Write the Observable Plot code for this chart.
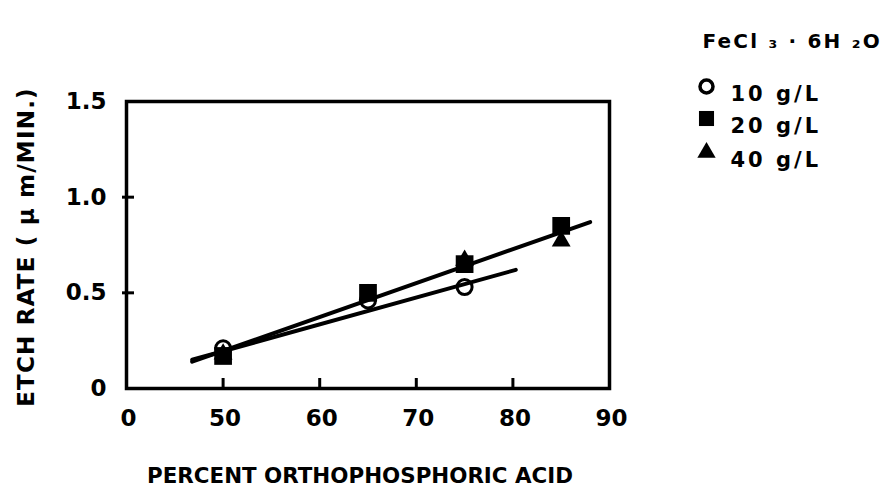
<!DOCTYPE html>
<html>
<head>
<meta charset="utf-8">
<script src="https://cdn.jsdelivr.net/npm/d3@7"></script>
<script src="https://cdn.jsdelivr.net/npm/@observablehq/plot@0.6"></script>
<style>
  html, body { margin: 0; padding: 0; background: #fff; }
  #chart svg { display: block; font-family: "DejaVu Sans", sans-serif; font-weight: bold; }
</style>
</head>
<body>
<div id="chart"></div>
<script>
// ---- data ----
const acidPct = [50, 65, 75, 85];                 // % orthophosphoric acid
const rate10 = [0.21, 0.46, 0.53, null];          // FeCl3·6H2O 10 g/L (circles)
const rate20 = [0.17, 0.50, 0.65, 0.85];          // 20 g/L (squares)
const rate40 = [0.18, 0.49, 0.67, 0.77];          // 40 g/L (triangles)
const fitUpperX = [46.8, 88.0];                   // fitted line through 20/40 g/L
const fitUpperY = [0.14, 0.87];
const fitLowerX = [46.8, 80.3];                   // fitted line through 10 g/L
const fitLowerY = [0.15, 0.62];
const xTicks = [40, 50, 60, 70, 80, 90];
const xTickLabels = ["0", "50", "60", "70", "80", "90"];
const xInnerTicks = [50, 60, 70, 80];
const yTicks = [0, 0.5, 1.0, 1.5];
const yTickLabels = ["0", "0.5", "1.0", "1.5"];
const yInnerTicks = [0.5, 1.0];
const legendTitle = "FeCl \u2083 \u00B7 6H \u2082O";
const legendLabels = ["10 g/L", "20 g/L", "40 g/L"];
const xTitle = "PERCENT ORTHOPHOSPHORIC ACID";
const yTitle = "ETCH RATE ( \u03BC m/MIN.)";

const pts = (ys) => acidPct.map((x, i) => ({x, y: ys[i]})).filter(d => d.y != null);
const seg = (xs, ys) => xs.map((x, i) => ({x, y: ys[i]}));

const FS = 23;
const legendRowDy = [-15, 17, 51];
const legendSymbols = ["circle", "square", "triangle"];
const legendStyle = [
  {r: 6.5, fill: "white", stroke: "black", strokeWidth: 3.5},
  {r: 8.5, fill: "black"},
  {r: 6.8, fill: "black"}
];

const chart = Plot.plot({
  width: 884,
  height: 491,
  marginLeft: 126,
  marginRight: 275,
  marginTop: 101,
  marginBottom: 103,
  x: {domain: [40, 90]},
  y: {domain: [0, 1.5]},
  marks: [
    // tick labels
    Plot.axisX({ticks: xTicks, tickSize: 0, tickPadding: 21, fontSize: FS, fontWeight: "bold",
      tickFormat: d => xTickLabels[xTicks.indexOf(d)], label: null, dx: 2}),
    Plot.axisY({ticks: yTicks, tickSize: 0, tickPadding: 20, fontSize: FS, fontWeight: "bold",
      tickFormat: d => yTickLabels[yTicks.indexOf(d)], label: null}),
    // inward tick marks
    Plot.axisX({ticks: xInnerTicks, tickSize: -10, strokeWidth: 3, tickFormat: () => "", label: null}),
    Plot.axisY({ticks: yInnerTicks, tickSize: -8, strokeWidth: 3, tickFormat: () => "", label: null}),
    Plot.axisY({ticks: yInnerTicks, tickSize: 4, strokeWidth: 3, tickFormat: () => "", label: null}),
    Plot.frame({stroke: "black", strokeWidth: 3.5}),
    // open circles (10 g/L)
    Plot.dot(pts(rate10), {x: "x", y: "y", symbol: "circle", r: 7.5, fill: "white", stroke: "black", strokeWidth: 3}),
    // fitted lines
    Plot.line(seg(fitUpperX, fitUpperY), {x: "x", y: "y", stroke: "black", strokeWidth: 4}),
    Plot.line(seg(fitLowerX, fitLowerY), {x: "x", y: "y", stroke: "black", strokeWidth: 4}),
    // filled squares and triangles
    Plot.dot(pts(rate40), {x: "x", y: "y", symbol: "triangle", r: 7, fill: "black"}),
    Plot.dot(pts(rate20), {x: "x", y: "y", symbol: "square", r: 10, fill: "black"}),
    // axis titles
    Plot.text([xTitle], {frameAnchor: "bottom", dx: -8, dy: 94, fontSize: 21.4, fontWeight: "bold"}),
    Plot.text([yTitle], {frameAnchor: "left", textAnchor: "middle", dx: -100, dy: 2, rotate: -90, fontSize: 23, fontWeight: "bold"}),
    // legend
    Plot.text([legendTitle], {frameAnchor: "top-right", dx: 93, dy: -68, textAnchor: "start", fontSize: 20, fontWeight: "bold"}),
    ...legendLabels.map((lab, i) =>
      Plot.dot([lab], {frameAnchor: "top-right", dx: 97, dy: legendRowDy[i], symbol: legendSymbols[i], ...legendStyle[i]})),
    ...legendLabels.map((lab, i) =>
      Plot.text([lab], {frameAnchor: "top-right", dx: 121, dy: legendRowDy[i], textAnchor: "start", fontSize: 21, fontWeight: "bold"}))
  ]
});
// letter spacing (not a Plot text option) applied to the rendered text elements
const spacing = new Map([[yTitle, "1.2px"], [legendTitle, "2.2px"], ...legendLabels.map(l => [l, "3px"])]);
d3.select(chart).selectAll("text").each(function() {
  const s = spacing.get(this.textContent);
  if (s) this.style.letterSpacing = s;
});
document.getElementById("chart").append(chart);
</script>
</body>
</html>
